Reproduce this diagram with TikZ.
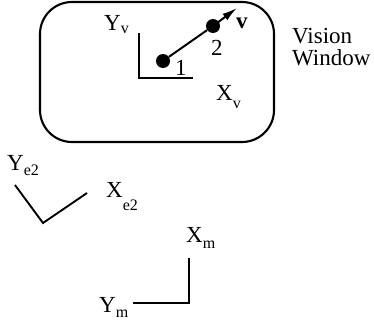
\documentclass[tikz,border=0pt]{standalone}
\usepackage{fontspec}
\setmainfont{Liberation Serif}
\usepackage{tikz}
\usetikzlibrary{positioning,arrows.meta,calc}

\newcommand{\axlab}[3][4pt]{#2\raisebox{-#1}{\fontsize{16}{16}\selectfont #3}}

\tikzset{
  lbl/.style={font=\fontsize{23}{22}\selectfont, inner sep=0pt, anchor=base west},
  axis/.style={line width=1.9pt},
  dot/.style={circle, fill=black, inner sep=0pt, minimum size=14pt}
}

\begin{document}
\begin{tikzpicture}[x=1pt, y=-1pt]
    \useasboundingbox (0,0) rectangle (374,324);

    % Vision window
    \draw[line width=2.1pt, rounded corners=32pt] (40,2) rectangle (274,142);
    \node[lbl, align=left] (win) at (292,65) {Vision\\Window};

    % Vision frame axes
    \coordinate (vy) at (139,33);
    \coordinate (vo) at (139,78);
    \coordinate (vx) at (193,78);
    \draw[axis] (vy) -- (vo) -- (vx);
    \node[lbl] (Yv) at (104,30) {\axlab[3pt]{Y}{v}};
    \node[lbl] (Xv) at (216,100) {\axlab[8pt]{X}{v}};

    % Points and velocity
    \node[dot] (p1) at (163,61) {};
    \node[dot] (p2) at (213,26) {};
    \coordinate (vtip) at (237,8);
    \draw[line width=2pt] (p1) -- (p2);
    \draw[line width=2pt, -{Latex[length=15pt,width=8pt]}] (p2.center) -- (vtip);
    \node[lbl] (n1) at (175,75) {1};
    \node[lbl] (n2) at (211,55) {2};
    \node[lbl, font=\fontsize{23}{22}\selectfont\bfseries] (v) at (236,28) {v};

    % e2 frame axes
    \coordinate (ey) at (15,185);
    \coordinate (eo) at (43,223);
    \coordinate (ex) at (87,193);
    \draw[axis] (ey) -- (eo) -- (ex);
    \node[lbl] (Ye) at (7,170) {\axlab[5pt]{Y}{e2}};
    \node[lbl] (Xe) at (106,197) {\axlab[13pt]{X}{e2}};

    % m frame axes
    \coordinate (mx) at (189,258);
    \coordinate (mo) at (189,303);
    \coordinate (my) at (133,303);
    \draw[axis] (mx) -- (mo) -- (my);
    \node[lbl] (Xm) at (186,242) {\axlab[6pt]{X}{m}};
    \node[lbl] (Ym) at (99,312) {\axlab[5pt]{Y}{m}};
\end{tikzpicture}
\end{document}
